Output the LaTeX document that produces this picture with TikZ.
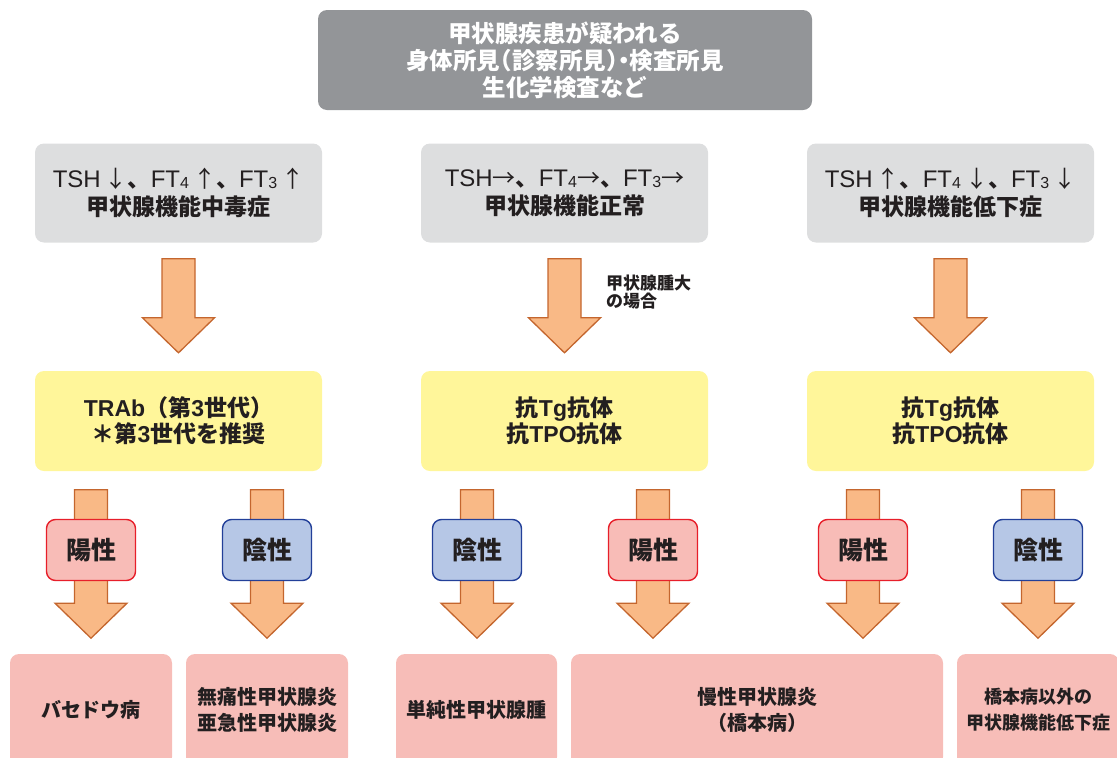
\documentclass[tikz,border=0pt]{standalone}
\usepackage{fontspec}
\setmainfont{Noto Sans CJK JP}
\newfontfamily\lat{Liberation Sans}
\usetikzlibrary{calc,backgrounds}
\definecolor{topgray}{HTML}{939598}
\definecolor{lightgray}{HTML}{DDDEDF}
\definecolor{yel}{HTML}{FFF69A}
\definecolor{pinkbox}{HTML}{F7BDB8}
\definecolor{posfill}{HTML}{F8BCB7}
\definecolor{posline}{HTML}{E71F2A}
\definecolor{negfill}{HTML}{B6C7E6}
\definecolor{negline}{HTML}{234099}
\definecolor{arrfill}{HTML}{F9B986}
\definecolor{arrline}{HTML}{C4662E}
\definecolor{txt}{HTML}{231F20}
\newcommand\mysub[1]{\raisebox{-1pt}{\fontsize{16}{16}\selectfont #1}}
\newcommand\hw[1]{{\addfontfeature{RawFeature=+halt}#1}}
\newcommand\ar[1]{{\mdseries\addfontfeature{RawFeature=+halt}#1}}
\newcommand\fatarrow[2]{%
  \draw[fatarr] ($(#1)+(-16.5,0)$) -- ($(#1)+(16.5,0)$) -- ($(#2)+(16.5,-35)$) --
    ($(#2)+(36,-35)$) -- (#2) -- ($(#2)+(-36,-35)$) -- ($(#2)+(-16.5,-35)$) -- cycle;}
\tikzset{
  base/.style={rounded corners=9pt, inner sep=0pt, align=center, text=txt},
  topbox/.style={base, fill=topgray, text=white, minimum width=494, minimum height=100,
    font=\bfseries\fontsize{23.5}{27}\selectfont},
  graybox/.style={base, fill=lightgray, minimum width=287, minimum height=99,
    font=\bfseries\fontsize{23}{28}\selectfont},
  yelbox/.style={base, fill=yel, minimum width=287, minimum height=100,
    font=\bfseries\fontsize{23}{26}\selectfont},
  posbox/.style={base, fill=posfill, draw=posline, line width=1.4pt, minimum width=89, minimum height=61,
    font=\bfseries\fontsize{25}{26}\selectfont},
  negbox/.style={base, fill=negfill, draw=negline, line width=1.4pt, minimum width=89, minimum height=61,
    font=\bfseries\fontsize{25}{26}\selectfont},
  resbox/.style={base, fill=pinkbox, minimum height=112, font=\bfseries\fontsize{20}{26}\selectfont},
  note/.style={inner sep=0pt, align=left, text=txt, font=\bfseries\fontsize{17}{18.5}\selectfont},
  fatarr/.style={draw=arrline, fill=arrfill, line width=1.3pt, line join=miter},
}
\newcommand\latm[1]{{\lat\mdseries\fontsize{24}{28}\selectfont #1}}
\newcommand\latb[1]{{\lat\bfseries #1}}
\begin{document}
\begin{tikzpicture}[x=1pt,y=-1pt]
\useasboundingbox (0,0) rectangle (1117,758);
% top
\node[topbox] (top) at (565,60) {甲状腺疾患が疑われる\\身体所見\hw{（}診察所見\hw{）・}検査所見\\生化学検査など};
% row 2
\node[graybox] (r1) at (178.5,193) {\latm{TSH\,}\ar{↓}、\latm{FT\mysub{4}\,}\ar{↑}、\latm{FT\mysub{3}\,}\ar{↑}\\甲状腺機能中毒症};
\node[graybox] (r2) at (564.5,193) {\latm{TSH}\ar{→}、\latm{FT\mysub{4}}\ar{→}、\latm{FT\mysub{3}}\ar{→}\\甲状腺機能正常};
\node[graybox] (r3) at (950.5,193) {\latm{TSH\,}\ar{↑}、\latm{FT\mysub{4}\,}\ar{↓}、\latm{FT\mysub{3}\,}\ar{↓}\\甲状腺機能低下症};
% row 3
\node[yelbox] (y1) at (178.5,421) {\latb{TRAb}（第\latb{3}世代）\\＊第\latb{3}世代を推奨};
\node[yelbox] (y2) at (564.5,421) {抗\latb{Tg}抗体\\抗\latb{TPO}抗体};
\node[yelbox] (y3) at (950.5,421) {抗\latb{Tg}抗体\\抗\latb{TPO}抗体};
\node[note, anchor=west] (n2) at (606,292) {甲状腺腫大\\の場合};
% labels
\node[posbox] (p1) at (91,550) {陽性};
\node[negbox] (p2) at (267,550) {陰性};
\node[negbox] (p3) at (477,550) {陰性};
\node[posbox] (p4) at (653,550) {陽性};
\node[posbox] (p5) at (863,550) {陽性};
\node[negbox] (p6) at (1038,550) {陰性};
% results
\node[resbox, minimum width=162] (b1) at (91,710) {バセドウ病};
\node[resbox, minimum width=162] (b2) at (267,710) {無痛性甲状腺炎\\亜急性甲状腺炎};
\node[resbox, minimum width=161] (b3) at (476.5,710) {単純性甲状腺腫};
\node[resbox, minimum width=372] (b4) at (757,710) {慢性甲状腺炎\\（橋本病）};
\node[resbox, minimum width=162, font=\bfseries\fontsize{18}{26}\selectfont] (b5) at (1038,710) {橋本病以外の\\甲状腺機能低下症};
% arrows
\begin{scope}[on background layer]
\foreach \r/\y in {r1/y1,r2/y2,r3/y3}{
  \coordinate (s\r) at ($(\r.south)+(0,16)$);
  \coordinate (t\r) at ($(\y.north)+(0,-18)$);
  \fatarrow{s\r}{t\r}
}
\foreach \p in {p1,p2,p3,p4,p5,p6}{
  \coordinate (s\p) at ($(\p.north)+(0,-29)$);
  \coordinate (t\p) at ($(\p.south)+(0,57)$);
  \fatarrow{s\p}{t\p}
}
\end{scope}
\end{tikzpicture}
\end{document}
